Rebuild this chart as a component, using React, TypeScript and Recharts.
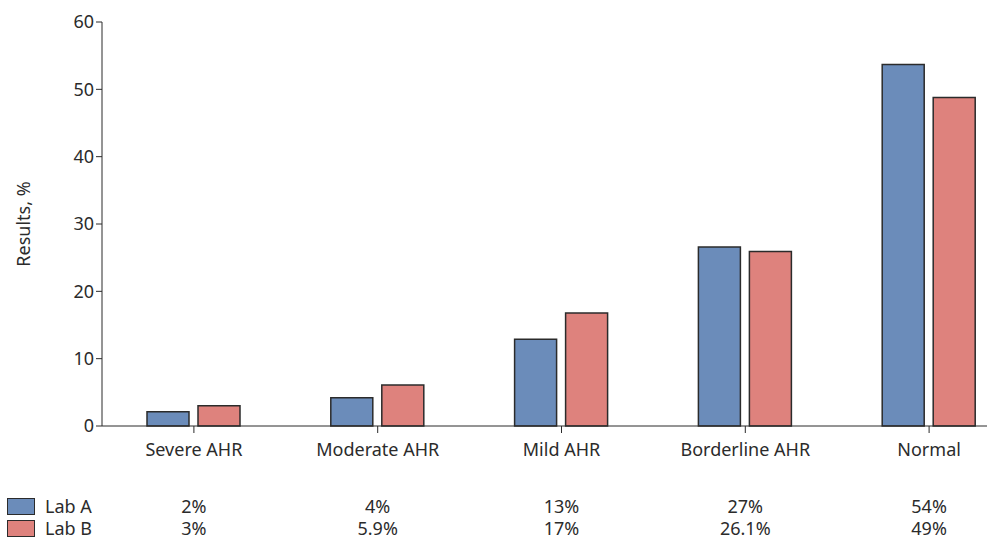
import React from "react";
import { BarChart, Bar, XAxis, YAxis, Label } from "recharts";

const categories = ["Severe AHR", "Moderate AHR", "Mild AHR", "Borderline AHR", "Normal"];
const labA = [2.1, 4.2, 12.9, 26.6, 53.7];
const labB = [3.0, 6.1, 16.8, 25.9, 48.8];
const labALabels = ["2%", "4%", "13%", "27%", "54%"];
const labBLabels = ["3%", "5.9%", "17%", "26.1%", "49%"];
const yTicks = [0, 10, 20, 30, 40, 50, 60];

const BLUE = "#6b8cba";
const RED = "#de827d";
const INK = "#2b2b2b";
const FONT = "'Noto Sans', sans-serif";
const FS = 18;

const data = categories.map((name, i) => ({ name, a: labA[i], b: labB[i] }));

// category label plus the two table rows under each group
function CategoryTick(props: any) {
  const { x, y, payload, index } = props;
  return (
    <g>
      <text x={x} y={y + 21} textAnchor="middle" fill={INK} fontSize={FS} fontFamily={FONT}>
        {payload.value}
      </text>
      <text x={x} y={y + 78} textAnchor="middle" fill={INK} fontSize={FS} fontFamily={FONT}>
        {labALabels[index]}
      </text>
      <text x={x} y={y + 100} textAnchor="middle" fill={INK} fontSize={FS} fontFamily={FONT}>
        {labBLabels[index]}
      </text>
    </g>
  );
}

function LegendRow({ color, label, top }: { color: string; label: string; top: number }) {
  return (
    <div style={{ position: "absolute", left: 7, top, display: "flex", alignItems: "center", gap: 10 }}>
      <span style={{ width: 28, height: 17, background: color, border: `1.5px solid ${INK}`, boxSizing: "border-box" }} />
      <span style={{ fontFamily: FONT, fontSize: FS, color: INK, lineHeight: "22px" }}>{label}</span>
    </div>
  );
}

export default function App() {
  return (
    <div style={{ position: "absolute", left: 0, top: 0, width: 987, height: 541, overflow: "hidden", background: "#fff" }}>
      <BarChart
        width={1021}
        height={541}
        data={data}
        margin={{ top: 22, right: 0, bottom: 0, left: 0 }}
        barSize={42}
        barGap={9}
      >
        <XAxis
          dataKey="name"
          height={115}
          stroke={INK}
          tickSize={7}
          tick={<CategoryTick />}
          interval={0}
        />
        <YAxis
          domain={[0, 60]}
          ticks={yTicks}
          width={102}
          stroke={INK}
          tickSize={6}
          tick={{ fill: INK, fontSize: FS, fontFamily: FONT }}
        >
          <Label
            value="Results, %"
            angle={-90}
            position="insideLeft"
            offset={24}
            style={{ fill: INK, fontSize: FS, fontFamily: FONT, textAnchor: "middle" }}
          />
        </YAxis>
        <Bar dataKey="a" fill={BLUE} stroke={INK} strokeWidth={1.5} isAnimationActive={false} />
        <Bar dataKey="b" fill={RED} stroke={INK} strokeWidth={1.5} isAnimationActive={false} />
      </BarChart>
      <LegendRow color={BLUE} label="Lab A" top={495} />
      <LegendRow color={RED} label="Lab B" top={517} />
    </div>
  );
}
